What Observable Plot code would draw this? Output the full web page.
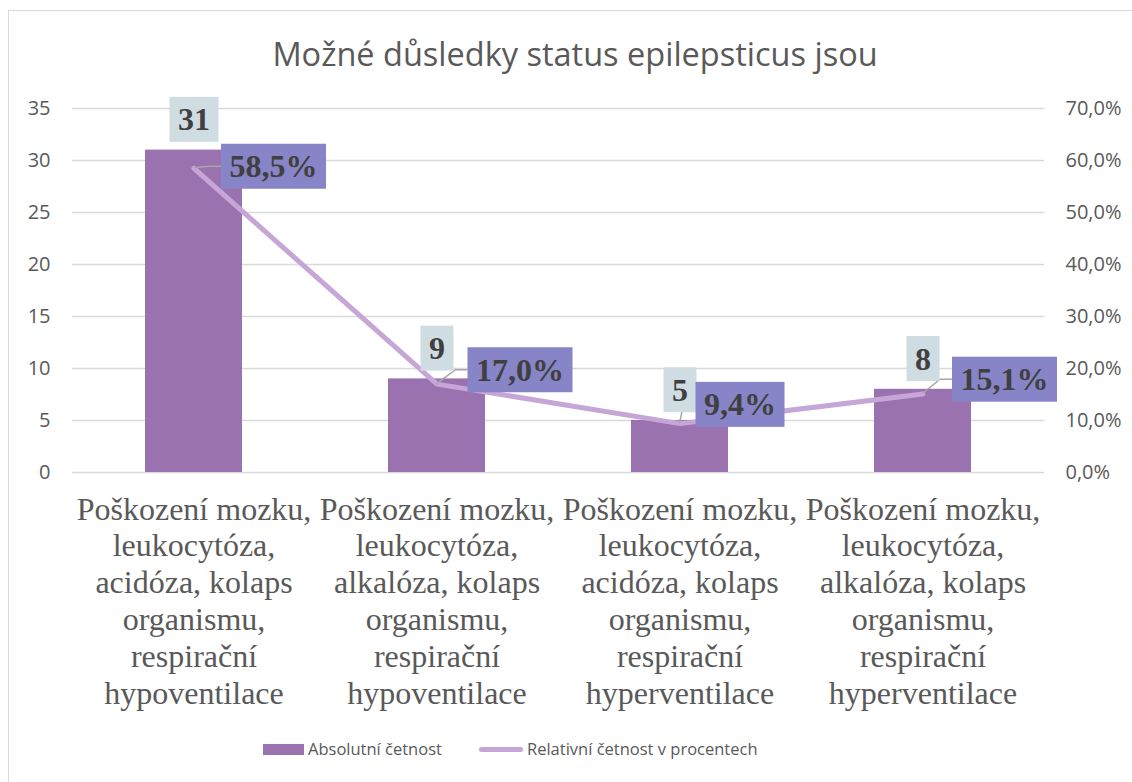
<!DOCTYPE html>
<html><head><meta charset="utf-8">
<script src="https://cdn.jsdelivr.net/npm/d3@7"></script>
<script src="https://cdn.jsdelivr.net/npm/@observablehq/plot@0.6"></script>
<style>
body{margin:0;background:#fff;width:1132px;height:782px;overflow:hidden;position:relative;font-family:"Open Sans",sans-serif;}
#frame{position:absolute;left:8px;top:10px;width:1140px;height:800px;border:1.5px solid #d9d9d9;box-sizing:border-box;}
#title{position:absolute;left:0;width:1150px;top:32px;text-align:center;font-size:32.5px;color:#595959;line-height:44px;}
#chart{position:absolute;left:0;top:80px;}
#legend{position:absolute;top:737px;left:0;width:1132px;height:24px;font-size:16.5px;color:#595959;}
.sw{position:absolute;}
.lt{position:absolute;line-height:24px;top:0;}
</style>
</head><body>
<div id="frame"></div>
<div id="title">Možné důsledky status epilepsticus jsou</div>
<div id="chart"></div>
<div id="legend">
  <div class="sw" style="left:263px;top:7px;width:41px;height:11px;background:#9b72b0"></div>
  <div class="lt" style="left:308px">Absolutní četnost</div>
  <div class="sw" style="left:479px;top:10px;width:44px;height:5px;border-radius:3px;background:#c5a6d6"></div>
  <div class="lt" style="left:527px">Relativní četnost v procentech</div>
</div>
<script>
const categories = [
  "Poškození mozku,\nleukocytóza,\nacidóza, kolaps\norganismu,\nrespirační\nhypoventilace",
  "Poškození mozku,\nleukocytóza,\nalkalóza, kolaps\norganismu,\nrespirační\nhypoventilace",
  "Poškození mozku,\nleukocytóza,\nacidóza, kolaps\norganismu,\nrespirační\nhyperventilace",
  "Poškození mozku,\nleukocytóza,\nalkalóza, kolaps\norganismu,\nrespirační\nhyperventilace"
];
const absolute = [31, 9, 5, 8];
const relative = [58.5, 17.0, 9.4, 15.1];
const leftTicks = [0, 5, 10, 15, 20, 25, 30, 35];

const data = categories.map((c, i) => ({cat: c, abs: absolute[i], rel: relative[i], i}));
const fmtPct = v => v.toFixed(1).replace(".", ",") + "%";

// label placement offsets (layout, px)
const pctOffsets = [[79.5, -1.3], [83, -13.6], [60, -18.5], [81.5, -14]];

const labelFont = {fontSize: 32, fontWeight: "bold", fontFamily: "Liberation Serif", fill: "#404040"};

const plot = Plot.plot({
  width: 1132, height: 650,
  marginTop: 28, marginBottom: 258, marginLeft: 72, marginRight: 88,
  x: {domain: categories, paddingInner: 0.6, paddingOuter: 0.3, axis: null},
  y: {domain: [0, 35], axis: null},
  style: {background: "transparent", overflow: "visible"},
  marks: [
    Plot.gridY(leftTicks, {stroke: "#d9d9d9", strokeOpacity: 1, strokeWidth: 1.3}),
    Plot.axisY(leftTicks, {anchor: "left", tickSize: 0, tickPadding: 22, fontSize: 20, fontFamily: "Open Sans", color: "#595959", label: null}),
    Plot.axisY(leftTicks, {anchor: "right", tickSize: 0, tickPadding: 21, fontSize: 20, fontFamily: "Open Sans", color: "#595959", label: null, tickFormat: d => fmtPct(d * 2)}),
    Plot.text(categories, {x: d => d, y: () => 0, text: d => d, lineAnchor: "top", dy: 21, fontSize: 32, fontFamily: "Liberation Serif", fill: "#595959", lineHeight: 1.15}),
    Plot.barY(data, {x: "cat", y: "abs", fill: "#9b72b0"}),
    Plot.line(data, {x: "cat", y: d => d.rel / 2, stroke: "#c5a6d6", strokeWidth: 5, strokeLinejoin: "round", strokeLinecap: "round"}),
    Plot.text(data, {x: "cat", y: "abs", text: d => String(d.abs), dy: -30, ...labelFont, ariaDescription: "val-label"}),
    ...data.map((d, k) => Plot.text([d], {x: "cat", y: v => v.rel / 2, text: v => fmtPct(v.rel), dx: pctOffsets[k][0], dy: pctOffsets[k][1], ...labelFont, ariaDescription: "pct-label"}))
  ]
});
document.getElementById("chart").appendChild(plot);

// boxes and leader lines
const NS = "http://www.w3.org/2000/svg";
const svgRect = plot.getBoundingClientRect();
const xs = plot.scale("x"), ys = plot.scale("y");
const valGroups = [...plot.querySelectorAll('g[aria-description="val-label"]')];
const pctGroups = [...plot.querySelectorAll('g[aria-description="pct-label"]')];
const under = document.createElementNS(NS, "g");
plot.insertBefore(under, valGroups[0] || null);
const leaders = document.createElementNS(NS, "g");
under.appendChild(leaders);
function boxFor(textEl, fill) {
  const r = textEl.getBoundingClientRect();
  const x0 = r.left - svgRect.left, y0 = r.top - svgRect.top;
  const cx = x0 + r.width / 2, cy = y0 + r.height / 2;
  const w = r.width + 17, h = 45;
  const rect = document.createElementNS(NS, "rect");
  rect.setAttribute("x", cx - w / 2); rect.setAttribute("y", cy - h / 2);
  rect.setAttribute("width", w); rect.setAttribute("height", h);
  rect.setAttribute("fill", fill);
  return {rect, left: cx - w / 2, cy};
}
valGroups.forEach(g => g.querySelectorAll("text").forEach(t => under.appendChild(boxFor(t, "#cfdde3").rect)));
pctGroups.forEach((g, k) => {
  const t = g.querySelector("text");
  const b = boxFor(t, "#8784c7");
  under.appendChild(b.rect);
  const d = data[k];
  const px = xs.apply(d.cat) + (xs.bandwidth || 0) / 2, py = ys.apply(d.rel / 2);
  const pl = document.createElementNS(NS, "polyline");
  pl.setAttribute("points", `${px},${py} ${b.left - 12},${b.cy} ${b.left},${b.cy}`);
  pl.setAttribute("fill", "none"); pl.setAttribute("stroke", "#a6a6a6"); pl.setAttribute("stroke-width", 1.5);
  leaders.appendChild(pl);
});
</script>
</body></html>
